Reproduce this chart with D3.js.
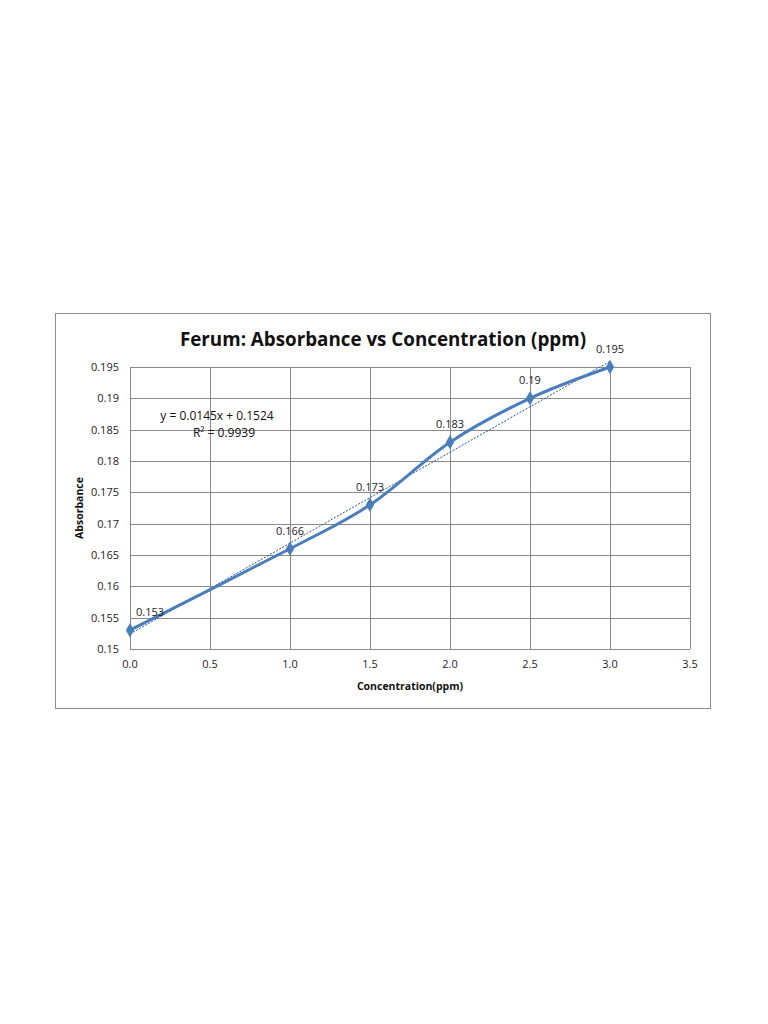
<!DOCTYPE html>
<html><head><meta charset="utf-8">
<script src="https://cdn.jsdelivr.net/npm/d3@7"></script>
<style>body{margin:0;background:#fff}svg{display:block}text{font-family:"Open Sans",sans-serif}</style>
</head><body>
<script>
const concentration = [0.0, 1.0, 1.5, 2.0, 2.5, 3.0];
const absorbance = [0.153, 0.166, 0.173, 0.183, 0.19, 0.195];
const xTicks = [0.0, 0.5, 1.0, 1.5, 2.0, 2.5, 3.0, 3.5];
const yTicks = [0.15, 0.155, 0.16, 0.165, 0.17, 0.175, 0.18, 0.185, 0.19, 0.195];
const slope = 0.0145, intercept = 0.1524;
const equationText = "y = 0.0145x + 0.1524";
const r2Text = "R² = 0.9939";

const svg = d3.select("body").append("svg").attr("width",768).attr("height",1024);
svg.append("rect").attr("x",55.5).attr("y",313.5).attr("width",655).attr("height",395)
  .attr("fill","#fff").attr("stroke","#8c8c8c").attr("stroke-width",1);

const x = d3.scaleLinear().domain([0,3.5]).range([130,690]);
const y = d3.scaleLinear().domain([0.15,0.195]).range([649,367]);

const g = svg.append("g");
g.selectAll(".hg").data(yTicks).join("line")
  .attr("x1",x(0)).attr("x2",x(3.5)).attr("y1",d=>Math.round(y(d))+0.5).attr("y2",d=>Math.round(y(d))+0.5)
  .attr("stroke","#8a8a8a").attr("stroke-width",1);
g.selectAll(".vg").data(xTicks).join("line")
  .attr("y1",y(0.15)).attr("y2",y(0.195)).attr("x1",d=>Math.round(x(d))+0.5).attr("x2",d=>Math.round(x(d))+0.5)
  .attr("stroke","#8a8a8a").attr("stroke-width",1);

g.selectAll(".yl").data(yTicks).join("text")
  .attr("x",119).attr("y",d=>y(d)+4).attr("text-anchor","end").attr("font-size",11).attr("fill","#222")
  .text(d=>d3.format("")(d));
g.selectAll(".xl").data(xTicks).join("text")
  .attr("x",d=>x(d)).attr("y",668).attr("text-anchor","middle").attr("font-size",11).attr("fill","#222")
  .text(d=>d3.format(".1f")(d));

svg.append("text").attr("x",383).attr("y",346).attr("text-anchor","middle").attr("font-size",18.8).attr("font-weight","bold").attr("fill","#111")
  .text("Ferum: Absorbance vs Concentration (ppm)");
svg.append("text").attr("x",410).attr("y",690).attr("text-anchor","middle").attr("font-size",10.5).attr("font-weight","bold").attr("fill","#111")
  .text("Concentration(ppm)");
svg.append("text").attr("transform","translate(83,508) rotate(-90)").attr("text-anchor","middle").attr("font-size",10.5).attr("font-weight","bold").attr("fill","#111")
  .text("Absorbance");

const pts = concentration.map((c,i)=>({c, a:absorbance[i]}));

svg.append("line").attr("x1",x(0)).attr("y1",y(intercept)).attr("x2",x(3)).attr("y2",y(intercept+slope*3))
  .attr("stroke","#2f4f8f").attr("stroke-width",1).attr("stroke-dasharray","2,1.5");

const line = d3.line().x(d=>x(d.c)).y(d=>y(d.a)).curve(d3.curveCatmullRom.alpha(0));
svg.append("path").datum(pts).attr("d",line).attr("fill","none").attr("stroke","#4a7ebb").attr("stroke-width",3);

svg.selectAll(".m").data(pts).join("path")
  .attr("d",d3.symbol(d3.symbolDiamond,60)())
  .attr("transform",d=>`translate(${x(d.c)},${y(d.a)})`)
  .attr("fill","#4a7ebb");

svg.selectAll(".dl").data(pts).join("text")
  .attr("x",(d,i)=> i===0 ? x(d.c)+20 : x(d.c)).attr("y",d=>y(d.a)-14)
  .attr("text-anchor","middle").attr("font-size",11).attr("fill","#222")
  .text(d=>d.a);

svg.append("text").attr("x",217).attr("y",420).attr("text-anchor","middle").attr("font-size",12).attr("fill","#111").text(equationText);
svg.append("text").attr("x",224).attr("y",437).attr("text-anchor","middle").attr("font-size",12).attr("fill","#111").text(r2Text);
</script>
</body></html>
